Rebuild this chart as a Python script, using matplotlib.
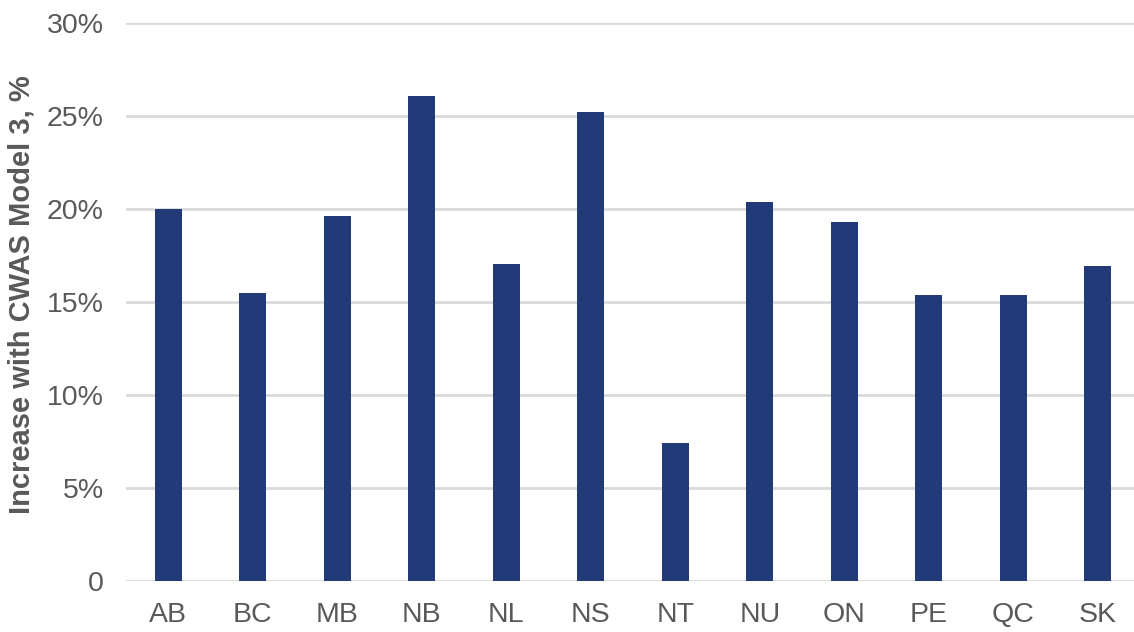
import matplotlib
matplotlib.use("Agg")
import matplotlib.pyplot as plt
from matplotlib.ticker import FuncFormatter

# Provincial / territorial increase with CWAS Model 3
provinces = ["AB", "BC", "MB", "NB", "NL", "NS", "NT", "NU", "ON", "PE", "QC", "SK"]
increase_pct = [20.0, 15.5, 19.6, 26.1, 17.05, 25.2, 7.4, 20.35, 19.3, 15.4, 15.4, 16.95]
y_ticks = [0, 5, 10, 15, 20, 25, 30]

plt.rcParams["font.family"] = ["Liberation Sans", "DejaVu Sans"]

W, H = 1134, 632
fig = plt.figure(figsize=(W / 100, H / 100), dpi=100)
left_px, right_px, bottom_px, top_px = 126, 1140, 581, 23
ax = fig.add_axes([left_px / W, (H - bottom_px) / H,
                   (right_px - left_px) / W, (bottom_px - top_px) / H])

x = range(len(provinces))
ax.bar(x, increase_pct, width=0.32, color="#223A78", zorder=3)

ax.set_xlim(-0.5, len(provinces) - 0.5)
ax.set_ylim(0, 30)
ax.set_yticks(y_ticks)
ax.yaxis.set_major_formatter(FuncFormatter(lambda v, _: "0" if v == 0 else f"{v:.0f}%"))
ax.set_xticks(list(x))
ax.set_xticklabels(provinces)

ax.grid(axis="y", color="#D9D9D9", linewidth=2, zorder=0)
for s in ax.spines.values():
    s.set_visible(False)
ax.tick_params(axis="both", length=0, labelsize=20.5, labelcolor="#595959")
ax.tick_params(axis="y", pad=16)
ax.tick_params(axis="x", pad=15)

ax.set_ylabel("Increase with CWAS Model 3, %", fontsize=21, fontweight="bold",
              color="#595959")
ax.yaxis.set_label_coords((36 - left_px) / (right_px - left_px),
                          (bottom_px - 295) / (bottom_px - top_px))

fig.savefig("out.png", dpi=100)
